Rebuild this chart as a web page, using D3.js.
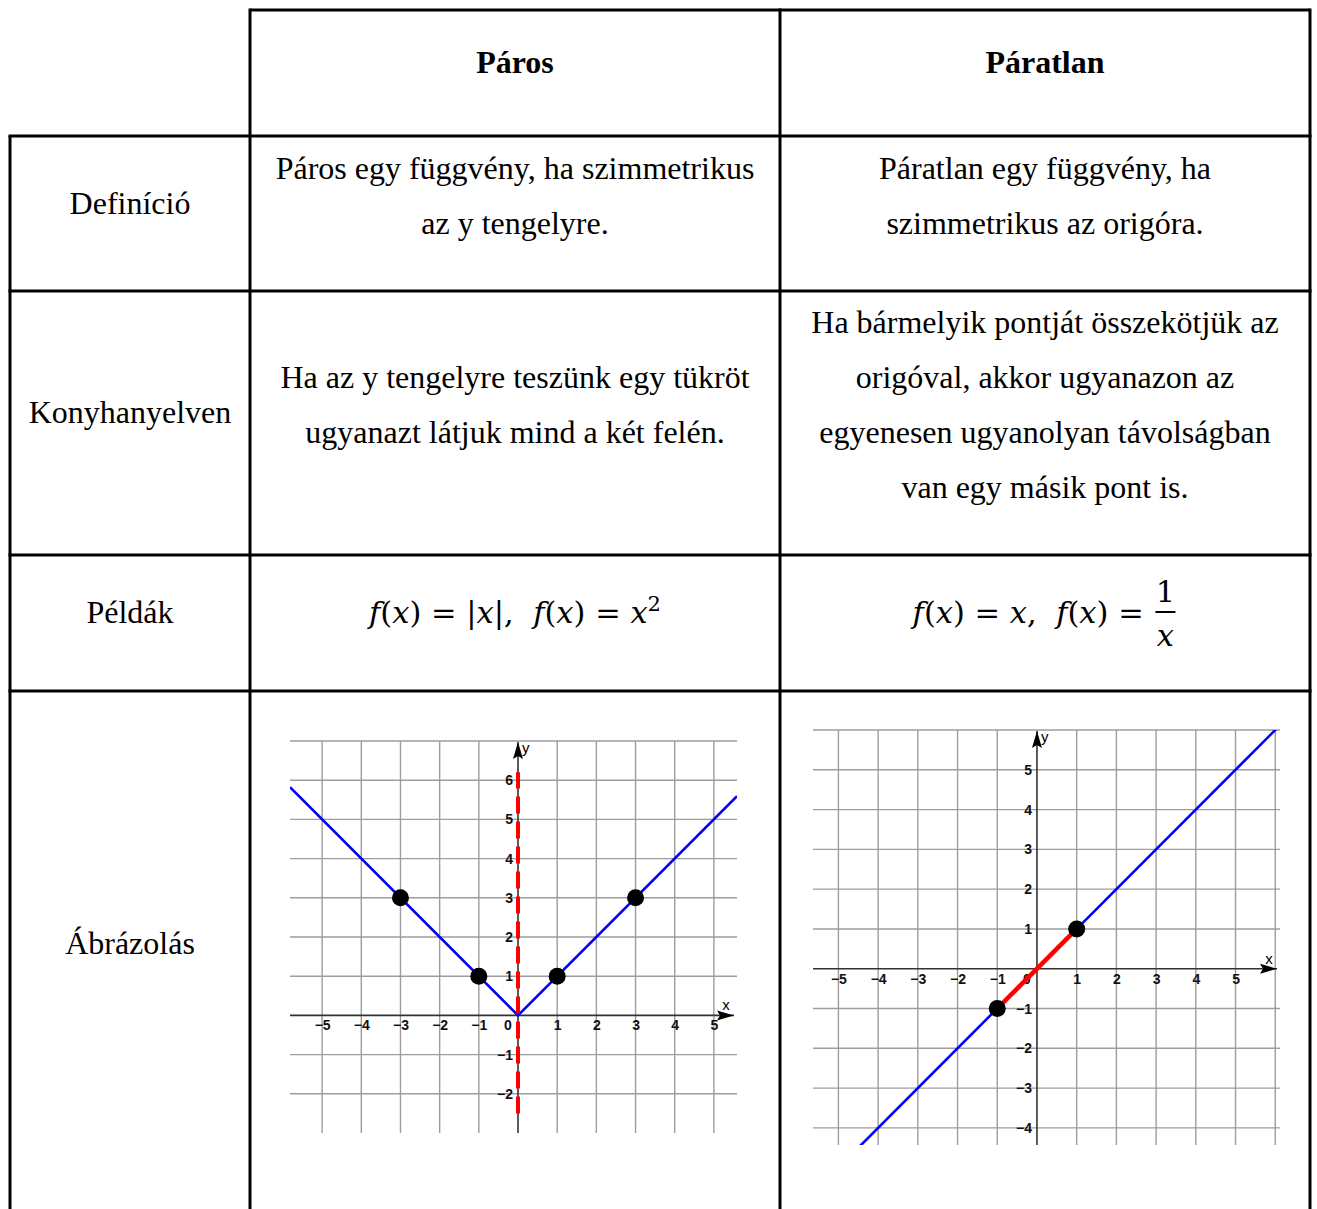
<!DOCTYPE html>
<html>
<head>
<meta charset="utf-8">
<script src="https://cdn.jsdelivr.net/npm/d3@7"></script>
<style>
    body { margin: 0; background: #fff; }
</style>
</head>
<body>
<div id="content"></div>
<script>
// table texts
const columnTitles = ["Páros", "Páratlan"];
const rowTitles = ["Definíció", "Konyhanyelven", "Példák", "Ábrázolás"];
const definitionLines = [
    ["Páros egy függvény, ha szimmetrikus", "az y tengelyre."],
    ["Páratlan egy függvény, ha", "szimmetrikus az origóra."]
];
const kitchenLines = [
    ["Ha az y tengelyre teszünk egy tükröt", "ugyanazt látjuk mind a két felén."],
    ["Ha bármelyik pontját összekötjük az", "origóval, akkor ugyanazon az",
     "egyenesen ugyanolyan távolságban", "van egy másik pont is."]
];

// even graph: f(x) = |x|
const evenGridX = [-5, -4, -3, -2, -1, 0, 1, 2, 3, 4, 5];
const evenGridY = [-2, -1, 0, 1, 2, 3, 4, 5, 6, 7];
const evenXTicks = [-5, -4, -3, -2, -1, 1, 2, 3, 4, 5];
const evenYTicks = [-2, -1, 1, 2, 3, 4, 5, 6];
const evenCurve = [[-5.82, 5.82], [0, 0], [5.59, 5.59]];
const evenMirror = [[0, -2.5], [0, 6.2]];
const evenPoints = [[-3, 3], [-1, 1], [1, 1], [3, 3]];

// odd graph: f(x) = x
const oddGridX = [-5, -4, -3, -2, -1, 0, 1, 2, 3, 4, 5, 6];
const oddGridY = [-4, -3, -2, -1, 0, 1, 2, 3, 4, 5, 6];
const oddXTicks = [-5, -4, -3, -2, -1, 1, 2, 3, 4, 5];
const oddYTicks = [-4, -3, -2, -1, 1, 2, 3, 4, 5];
const oddCurve = [[-4.6, -4.6], [6.2, 6.2]];
const oddSegment = [[-1, -1], [1, 1]];
const oddPoints = [[-1, -1], [1, 1]];

let width = 1317,
    height = 1209;

let svg = d3.select("#content")
    .append("svg")
    .attr("width", width)
    .attr("height", height)
    .style("display", "block");

let colX = [10, 250, 780, 1310];
let rowY = [10, 136, 291, 555, 691, 1209];
let colCenter = i => (colX[i] + colX[i + 1]) / 2;

let serif = "'Liberation Serif', 'Times New Roman', serif";
let mathFont = "'DejaVu Serif', serif";
let mathSize = 30.5;
let fontSize = 32;
let lineGap = 55.3;

// --- table lines
let grid = svg.append("g")
    .attr("stroke", "#000")
    .attr("stroke-width", 3);

grid.append("line").attr("x1", colX[1]).attr("x2", colX[3]).attr("y1", rowY[0]).attr("y2", rowY[0]);
rowY.slice(1, 5).forEach(y => {
    grid.append("line").attr("x1", colX[0] - 1.5).attr("x2", colX[3] + 1.5).attr("y1", y).attr("y2", y);
});
grid.append("line").attr("x1", colX[0]).attr("x2", colX[0]).attr("y1", rowY[1]).attr("y2", height);
[1, 2, 3].forEach(i => {
    grid.append("line").attr("x1", colX[i]).attr("x2", colX[i]).attr("y1", rowY[0] - 1.5).attr("y2", height);
});

// centred block of text lines
function textBlock(lines, cx, cy, bold) {
    let top = cy - (lines.length - 1) * lineGap / 2;
    svg.append("g")
        .selectAll("text")
        .data(lines)
        .enter()
        .append("text")
        .attr("x", cx)
        .attr("y", (d, i) => top + i * lineGap + 10.5)
        .attr("text-anchor", "middle")
        .style("font-family", serif)
        .style("font-size", fontSize + "px")
        .style("font-weight", bold ? "bold" : "normal")
        .style("fill", "#000")
        .text(d => d);
}

// header
columnTitles.forEach((t, i) => textBlock([t], colCenter(i + 1), (rowY[0] + rowY[1]) / 2 - 11, true));

// row titles
let rowCentres = [203, 412, 612, 943];
rowTitles.forEach((t, i) => textBlock([t], colCenter(0), rowCentres[i], false));

definitionLines.forEach((l, i) => textBlock(l, colCenter(i + 1), rowCentres[0] - 7, false));
kitchenLines.forEach((l, i) => textBlock(l, colCenter(i + 1), 405, false));

// --- formulas
function formula(parts, x, y) {
    let t = svg.append("text")
        .attr("x", x)
        .attr("y", y)
        .style("font-family", mathFont)
        .style("font-size", mathSize + "px")
        .style("white-space", "pre")
        .style("fill", "#000");
    parts.forEach(p => {
        let s = t.append("tspan")
            .style("font-style", p.i ? "italic" : "normal")
            .text(p.t);
        if (p.sup) s.attr("dy", -12).style("font-size", "21px");
    });
    return t;
}

let evenFormula = formula([
    {t: "f", i: 1}, {t: "("}, {t: "x", i: 1}, {t: ") = |"}, {t: "x", i: 1}, {t: "|,  "},
    {t: "f", i: 1}, {t: "("}, {t: "x", i: 1}, {t: ") = "}, {t: "x", i: 1}, {t: "2", sup: 1}
], 0, 623);
let ew = evenFormula.node().getComputedTextLength();
evenFormula.attr("x", colCenter(1) - ew / 2);

let oddFormula = formula([
    {t: "f", i: 1}, {t: "("}, {t: "x", i: 1}, {t: ") = "}, {t: "x", i: 1}, {t: ",  "},
    {t: "f", i: 1}, {t: "("}, {t: "x", i: 1}, {t: ") = "}
], 0, 623);
let ow = oddFormula.node().getComputedTextLength();
let fracW = 24;
let oStart = colCenter(2) - (ow + fracW) / 2;
oddFormula.attr("x", oStart);
let fracX = oStart + ow + fracW / 2;
svg.append("text").attr("x", fracX).attr("y", 602).attr("text-anchor", "middle")
    .style("font-family", mathFont).style("font-size", mathSize + "px").text("1");
svg.append("line").attr("x1", fracX - 10).attr("x2", fracX + 10).attr("y1", 612).attr("y2", 612)
    .attr("stroke", "#000").attr("stroke-width", 2);
svg.append("text").attr("x", fracX).attr("y", 646).attr("text-anchor", "middle")
    .style("font-family", mathFont).style("font-size", mathSize + "px").style("font-style", "italic").text("x");

// --- coordinate systems
let sans = "'Liberation Sans', Arial, sans-serif";

function plane(cfg) {
    let x = d3.scaleLinear().domain(cfg.xDomain).range(cfg.xRange);
    let y = d3.scaleLinear().domain(cfg.yDomain).range(cfg.yRange);
    let g = svg.append("g");

    let clipId = "clip" + cfg.id;
    g.append("clipPath").attr("id", clipId)
        .append("rect")
        .attr("x", x.range()[0]).attr("y", y.range()[1])
        .attr("width", x.range()[1] - x.range()[0])
        .attr("height", y.range()[0] - y.range()[1]);

    // grid
    g.append("g").selectAll("line")
        .data(cfg.gridX.filter(d => d !== 0))
        .enter().append("line")
        .attr("x1", d => x(d)).attr("x2", d => x(d))
        .attr("y1", y.range()[0]).attr("y2", y.range()[1])
        .attr("stroke", "#9d9d9d").attr("stroke-width", 1.4);
    g.append("g").selectAll("line")
        .data(cfg.gridY.filter(d => d !== 0))
        .enter().append("line")
        .attr("x1", x.range()[0]).attr("x2", x.range()[1])
        .attr("y1", d => y(d)).attr("y2", d => y(d))
        .attr("stroke", "#9d9d9d").attr("stroke-width", 1.4);

    // axes
    let ox = x(0), oy = y(0);
    let xEnd = x.range()[1] - 3, yEnd = y.range()[1] + 1;
    g.append("line").attr("x1", x.range()[0]).attr("x2", xEnd).attr("y1", oy).attr("y2", oy)
        .attr("stroke", "#333").attr("stroke-width", 1.6);
    g.append("line").attr("x1", ox).attr("x2", ox).attr("y1", y.range()[0]).attr("y2", yEnd)
        .attr("stroke", "#333").attr("stroke-width", 1.6);
    g.append("path")
        .attr("d", `M${xEnd},${oy} L${xEnd - 17},${oy - 5} L${xEnd - 14},${oy} L${xEnd - 17},${oy + 5} Z`)
        .attr("fill", "#000");
    g.append("path")
        .attr("d", `M${ox},${yEnd} L${ox - 5},${yEnd + 17} L${ox},${yEnd + 14} L${ox + 5},${yEnd + 17} Z`)
        .attr("fill", "#000");
    g.append("text").attr("x", xEnd - 8).attr("y", oy - 5).attr("text-anchor", "middle")
        .style("font-family", sans).style("font-size", "15px").text("x");
    g.append("text").attr("x", ox + 4).attr("y", yEnd + 11)
        .style("font-family", sans).style("font-size", "15px").text("y");

    // tick labels
    let xAxis = g.append("g")
        .attr("transform", `translate(0,${oy})`)
        .call(d3.axisBottom(x).tickValues(cfg.xTicks).tickSize(0).tickPadding(5));
    let yAxis = g.append("g")
        .attr("transform", `translate(${ox},0)`)
        .call(d3.axisLeft(y).tickValues(cfg.yTicks).tickSize(0).tickPadding(5));
    [xAxis, yAxis].forEach(a => {
        a.select(".domain").remove();
        a.selectAll("text")
            .style("font-family", sans)
            .style("font-size", "14px")
            .style("font-weight", "bold")
            .attr("fill", "#111");
    });
    g.append("text").attr("x", ox - 10).attr("y", oy + 5).attr("dy", "0.71em")
        .attr("text-anchor", "middle")
        .style("font-family", sans).style("font-size", "14px").style("font-weight", "bold")
        .attr("fill", "#111").text("0");

    let line = d3.line().x(d => x(d[0])).y(d => y(d[1]));

    g.append("path")
        .datum(cfg.curve)
        .attr("clip-path", `url(#${clipId})`)
        .attr("d", line)
        .attr("fill", "none")
        .attr("stroke", "#0000ff")
        .attr("stroke-width", 2.6);

    if (cfg.mirror) {
        g.append("path")
            .datum(cfg.mirror)
            .attr("d", line)
            .attr("fill", "none")
            .attr("stroke", "#ff0000")
            .attr("stroke-width", 4)
            .attr("stroke-dasharray", "17,8");
    }
    if (cfg.segment) {
        g.append("path")
            .datum(cfg.segment)
            .attr("d", line)
            .attr("fill", "none")
            .attr("stroke", "#ff0000")
            .attr("stroke-width", 4.5);
    }

    g.append("g").selectAll("circle")
        .data(cfg.points)
        .enter().append("circle")
        .attr("cx", d => x(d[0]))
        .attr("cy", d => y(d[1]))
        .attr("r", 8.5)
        .attr("fill", "#000");
}

plane({
    id: "even",
    xDomain: [-5.82, 5.59], xRange: [290, 737],
    yDomain: [-3, 7], yRange: [1133, 741],
    gridX: evenGridX, gridY: evenGridY,
    xTicks: evenXTicks, yTicks: evenYTicks,
    curve: evenCurve, mirror: evenMirror, points: evenPoints
});

plane({
    id: "odd",
    xDomain: [-5.64, 6.12], xRange: [813, 1280],
    yDomain: [-4.43, 6.0], yRange: [1145, 730],
    gridX: oddGridX, gridY: oddGridY,
    xTicks: oddXTicks, yTicks: oddYTicks,
    curve: oddCurve, segment: oddSegment, points: oddPoints
});
</script>
</body>
</html>
